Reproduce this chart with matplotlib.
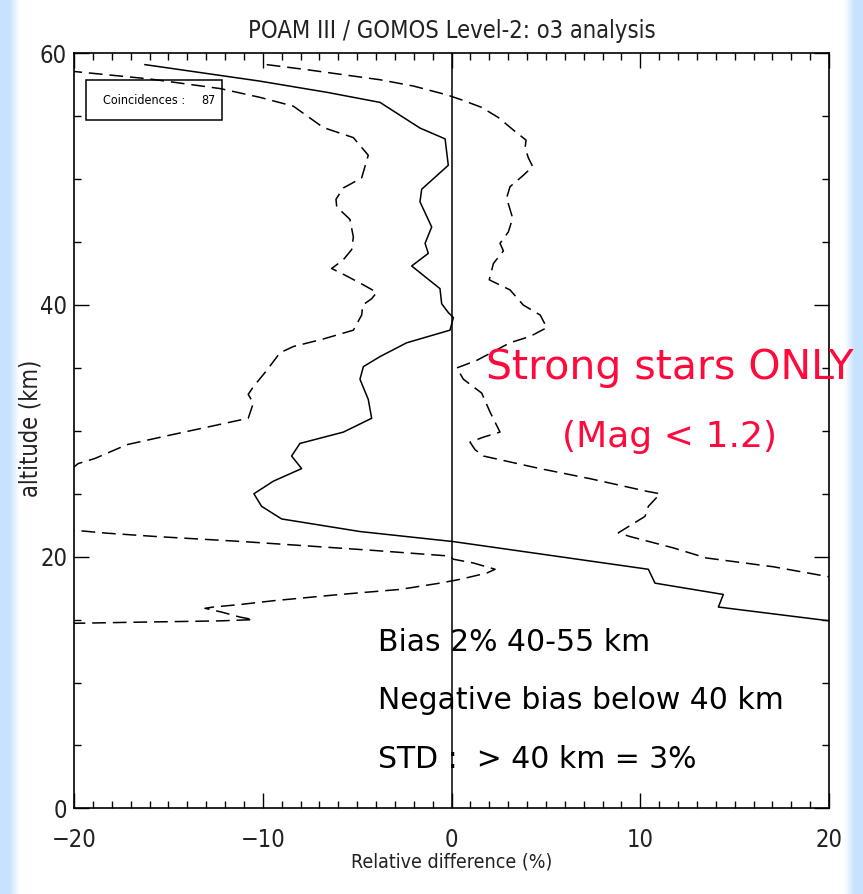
import numpy as np
import matplotlib
matplotlib.use("Agg")
import matplotlib.pyplot as plt
from matplotlib.patches import Rectangle
from matplotlib import font_manager

# mean relative difference POAM III / GOMOS (solid)
mean_diff = [-16.24, -10.2, -6.6, -3.79, -1.67, -0.34, -0.17, -1.58, -1.67, -1.05,
             -1.40, -1.23, -2.11, -0.61, -0.52, -0.17, 0.1, -0.08, -2.37, -3.79,
             -4.67, -4.85, -4.41, -4.23, -5.73, -8.03, -8.47, -7.94, -9.44, -10.47,
             -10.06, -9.0, -4.85, 0.1, 10.43, 10.78, 14.4, 14.14, 20.3]
mean_alt = [59.1, 57.8, 56.9, 56.1, 54.06, 53.2, 51.1, 49.2, 48.2, 46.2,
            44.9, 44.1, 43.1, 41.3, 40.1, 39.4, 39.0, 38.0, 37.0, 35.9,
            35.1, 34.1, 32.5, 31.0, 29.9, 29.0, 28.0, 27.0, 26.0, 25.0,
            24.0, 23.0, 22.0, 21.2, 19.0, 17.9, 17.0, 16.0, 14.85]

# mean - std (dashed, left)
lo_diff = [-20.3, -15.98, -12.27, -10.15, -8.38, -6.79, -5.2, -4.41, -4.76, -5.73,
           -6.12, -6.08, -5.38, -5.2, -5.29, -5.73, -6.35, -5.55, -4.67, -3.96,
           -4.23, -4.7, -4.76, -5.2, -6.79, -8.38, -9.09, -9.79, -10.5, -10.77,
           -10.5, -10.77, -12.62, -15.1, -17.2, -18.9, -19.78, -24.0, -19.6, -18.27,
           -15.62, -11.03, -7.67, -4.14, -0.08, 0.1, 1.16, 2.31, 1.87, 0.45,
           -0.61, -2.73, -5.9, -9.44, -11.2, -12.62, -13.06, -12.18, -11.2, -10.5,
           -12.27, -16.5, -20.3]
lo_alt = [58.6, 57.96, 57.2, 56.5, 55.8, 54.1, 53.3, 51.9, 50.1, 49.3,
          48.4, 47.8, 46.8, 45.4, 44.4, 43.6, 42.9, 42.3, 41.6, 41.0,
          40.5, 40.0, 39.2, 38.0, 37.3, 36.7, 36.2, 34.8, 33.5, 32.9,
          32.2, 31.0, 30.4, 29.6, 28.9, 27.8, 27.4, 22.3, 22.05, 21.87,
          21.6, 21.2, 20.86, 20.5, 20.05, 19.8, 19.5, 19.0, 18.7, 18.2,
          17.9, 17.4, 17.0, 16.5, 16.2, 16.0, 15.9, 15.6, 15.2, 15.0,
          14.9, 14.8, 14.7]

# mean + std (dashed, right)
hi_diff = [-9.79, -7.67, -5.73, -3.79, -2.02, -0.25, 0.54, 1.6, 2.48, 3.28,
           3.95, 3.9, 4.07, 4.3, 3.8, 3.1, 2.92, 3.1, 3.24, 3.01,
           2.57, 2.75, 2.22, 2.0, 3.1, 3.8, 4.7, 5.05, 4.16, 3.1,
           1.34, 0.28, 0.63, 1.6, 2.04, 2.57, 1.69, 0.98, 1.25, 1.69,
           4.69, 7.34, 10.34, 11.05, 10.43, 10.25, 8.84, 9.46, 11.75, 13.5,
           17.05, 20.2]
hi_alt = [59.1, 58.7, 58.3, 57.9, 57.4, 56.7, 56.3, 55.7, 54.9, 53.9,
          53.1, 52.5, 51.7, 51.0, 50.3, 49.4, 48.5, 47.6, 46.9, 45.8,
          44.9, 44.3, 43.3, 42.0, 41.2, 40.0, 39.2, 38.2, 37.5, 37.0,
          35.6, 35.0, 34.1, 33.0, 31.5, 29.9, 29.5, 29.1, 28.5, 28.0,
          27.0, 26.2, 25.2, 25.0, 24.0, 23.2, 21.9, 21.6, 20.7, 19.9,
          19.2, 18.35]

n_coinc = 87
title = "POAM III / GOMOS Level-2: o3 analysis"
notes = ["Bias 2% 40-55 km", "Negative bias below 40 km", "STD :  > 40 km = 3%"]

W, H = 863, 894

# a narrow face for the IDL-style labels, if one is around
cond = [f for f in font_manager.fontManager.ttflist
        if "Condensed" in f.fname or "Narrow" in f.fname]
narrow_name = cond[0].name if cond else "DejaVu Sans"

fig = plt.figure(figsize=(W / 100, H / 100), dpi=100)

# light blue border fading to white
bg = fig.add_axes([0, 0, 1, 1], zorder=-10)
bg.axis("off")
cols = np.arange(W)
d = np.minimum(cols, W - 1 - cols)
w = np.clip(1 - (d - 9) / 10.0, 0, 1)
blue = np.array([0.78, 0.89, 0.99])
row = (1 - w)[:, None] * np.ones(3) + w[:, None] * blue
bg.imshow(np.repeat(row[None, :, :], 4, axis=0), aspect="auto", extent=[0, 1, 0, 1])

ax = fig.add_axes([74 / W, 1 - 808.4 / H, 755 / W, 755.1 / H])
ax.plot(mean_diff, mean_alt, color="black", lw=1.1)
ax.plot(lo_diff, lo_alt, color="black", lw=1.1, dashes=(9, 4.5))
ax.plot(hi_diff, hi_alt, color="black", lw=1.1, dashes=(9, 4.5))
ax.axvline(0, color="black", lw=1.1)

ax.set_xlim(-20, 20)
ax.set_ylim(0, 60)
ax.set_xticks([-20, -10, 0, 10, 20])
ax.set_xticks(np.arange(-20, 21, 1), minor=True)
ax.set_yticks([0, 20, 40, 60])
ax.set_yticks(np.arange(0, 61, 5), minor=True)
ax.tick_params(which="both", direction="in", top=True, right=True, width=1.0,
               labelsize=17)
ax.tick_params(which="major", length=11)
ax.tick_params(which="minor", length=5)
ax.tick_params(axis="x", pad=14)
ax.tick_params(axis="y", pad=5)
for lab in ax.get_xticklabels() + ax.get_yticklabels():
    lab.set_family(narrow_name)
    lab.set_stretch("condensed")
    lab.set_color("#222222")
for s in ax.spines.values():
    s.set_linewidth(1.2)

ax.set_xlabel("Relative difference (%)", family=narrow_name, stretch="condensed",
              fontsize=14, va="center", color="#222222")
ax.xaxis.set_label_coords(0.5, -0.071)
ax.set_ylabel("altitude (km)", family=narrow_name, stretch="condensed",
              fontsize=17, va="center", color="#222222")
ax.yaxis.set_label_coords(-0.058, 0.504)

# coincidences box
ax.add_patch(Rectangle((0.016, 0.912), 0.18, 0.052, transform=ax.transAxes,
                       fill=False, lw=1.1, color="black"))
ax.text(0.038, 0.937, "Coincidences :", transform=ax.transAxes, fontsize=9,
        family=narrow_name, stretch="condensed", va="center")
ax.text(0.187, 0.937, str(n_coinc), transform=ax.transAxes, fontsize=9,
        family=narrow_name, stretch="condensed", va="center", ha="right")

fig.text(451.5 / W, 1 - 31 / H, title, ha="center", va="center", fontsize=17,
         family=narrow_name, stretch="condensed", color="#222222")

red = "#ff0a3c"
fig.text(670 / W, 1 - 379 / H, "Strong stars ONLY", ha="center", va="baseline",
         fontsize=29.5, color=red)
fig.text(670 / W, 1 - 447 / H, "(Mag < 1.2)", ha="center", va="baseline",
         fontsize=26, color=red)

for txt, yb in zip(notes, [651, 709, 768]):
    fig.text(378 / W, 1 - yb / H, txt, ha="left", va="baseline", fontsize=21.5,
             color="black")

fig.savefig("out.png", dpi=100)
